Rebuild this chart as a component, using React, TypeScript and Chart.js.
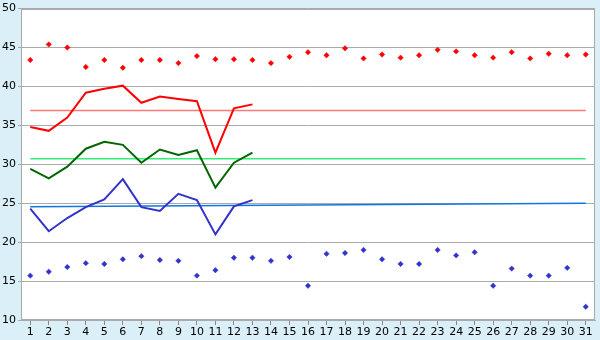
import React, { useEffect, useRef } from "react";
import { Chart, registerables } from "chart.js";

Chart.register(...registerables);

const categories = Array.from({ length: 31 }, (_, i) => String(i + 1));

const highPoints = [43.4, 45.4, 45.0, 42.5, 43.4, 42.4, 43.4, 43.4, 43.0, 43.9,
  43.5, 43.5, 43.4, 43.0, 43.8, 44.4, 44.0, 44.9, 43.6, 44.1,
  43.7, 44.0, 44.7, 44.5, 44.0, 43.7, 44.4, 43.6, 44.2, 44.0, 44.1];

const lowPoints = [15.7, 16.2, 16.8, 17.3, 17.2, 17.8, 18.2, 17.7, 17.6, 15.7,
  16.4, 18.0, 18.0, 17.6, 18.1, 14.4, 18.5, 18.6, 19.0, 17.8,
  17.2, 17.2, 19.0, 18.3, 18.7, 14.4, 16.6, 15.7, 15.7, 16.7, 11.7];

const redLine = [34.8, 34.3, 36.0, 39.2, 39.7, 40.1, 37.9, 38.7, 38.4, 38.1, 31.5, 37.2, 37.7];
const greenLine = [29.4, 28.2, 29.7, 32.0, 32.9, 32.5, 30.2, 31.9, 31.2, 31.8, 27.0, 30.2, 31.5];
const blueLine = [24.3, 21.4, 23.1, 24.5, 25.5, 28.1, 24.5, 24.0, 26.2, 25.4, 21.0, 24.6, 25.4];

// reference lines: [value at day 1, value at day 31]
const redRef = [36.9, 36.9];
const greenRef = [30.7, 30.7];
const blueRef = [24.55, 25.0];

const yTicks = [10, 15, 20, 25, 30, 35, 40, 45, 50];

const refData = (v: number[]) => [
  { x: categories[0], y: v[0] },
  { x: categories[categories.length - 1], y: v[1] },
];

export default function App() {
  const ref = useRef<HTMLCanvasElement | null>(null);
  useEffect(() => {
    document.body.style.margin = "0";
    const bgPlugin = {
      id: "bg",
      beforeDraw(chart: any) {
        const { ctx, chartArea: a } = chart;
        ctx.save();
        ctx.fillStyle = "#daeff7";
        ctx.fillRect(0, 0, chart.width, chart.height);
        ctx.fillStyle = "#ffffff";
        ctx.fillRect(a.left, a.top, a.right - a.left, a.bottom - a.top);
        ctx.restore();
      },
      afterDraw(chart: any) {
        const { ctx, chartArea: a } = chart;
        ctx.save();
        ctx.strokeStyle = "#aaaaaa";
        ctx.lineWidth = 1;
        ctx.strokeRect(Math.round(a.left) + 0.5, Math.round(a.top) + 0.5, Math.round(a.right - a.left) - 1, Math.round(a.bottom - a.top) - 1);
        ctx.restore();
      },
    };
    const lineDs = (data: number[], color: string) => ({
      type: "line" as const,
      data,
      borderColor: color,
      backgroundColor: color,
      borderWidth: 2,
      pointRadius: 0,
      tension: 0,
      order: 2,
    });
    const refDs = (v: number[], color: string) => ({
      type: "line" as const,
      data: refData(v),
      borderColor: color,
      backgroundColor: color,
      borderWidth: 1.5,
      pointRadius: 0,
      tension: 0,
      order: 3,
    });
    const ptDs = (data: number[], color: string) => ({
      type: "line" as const,
      data,
      showLine: false,
      borderColor: color,
      backgroundColor: color,
      pointStyle: "rectRot",
      pointRadius: 2.7,
      pointBorderWidth: 0.5,
      order: 1,
    });
    const chart = new Chart(ref.current!, {
      type: "line",
      data: {
        labels: categories,
        datasets: [
          refDs(redRef, "#ff7777"),
          refDs(greenRef, "#33ee77"),
          refDs(blueRef, "#1177dd"),
          lineDs(redLine, "#ff0000"),
          lineDs(greenLine, "#006600"),
          lineDs(blueLine, "#3333cc"),
          ptDs(highPoints, "#ff0000"),
          ptDs(lowPoints, "#3333cc"),
        ] as any,
      },
      options: {
        animation: false,
        responsive: false,
        layout: { padding: { top: 5, right: 5, left: 0, bottom: 0 } },
        plugins: { legend: { display: false }, tooltip: { enabled: false } },
        scales: {
          x: {
            type: "category",
            offset: true,
            grid: { drawOnChartArea: false, drawTicks: true, tickLength: 5, color: "#888888", offset: false },
            border: { display: true, color: "#aaaaaa" },
            ticks: { color: "#000000", font: { family: "DejaVu Sans", size: 11 }, padding: 1, maxRotation: 0, autoSkip: false },
            afterFit: (s: any) => { s.height = 20; },
          },
          y: {
            min: 10,
            max: 50,
            afterBuildTicks: (s: any) => { s.ticks = yTicks.map((v) => ({ value: v })); },
            grid: { color: "#aaaaaa", tickLength: 3 },
            border: { display: true, color: "#aaaaaa" },
            ticks: { color: "#000000", font: { family: "DejaVu Sans", size: 11 }, padding: 2 },
            afterFit: (s: any) => { s.width = 21; },
          },
        },
      },
      plugins: [bgPlugin],
    });
    return () => chart.destroy();
  }, []);
  return <canvas ref={ref} width={600} height={340} style={{ display: "block" }} />;
}
